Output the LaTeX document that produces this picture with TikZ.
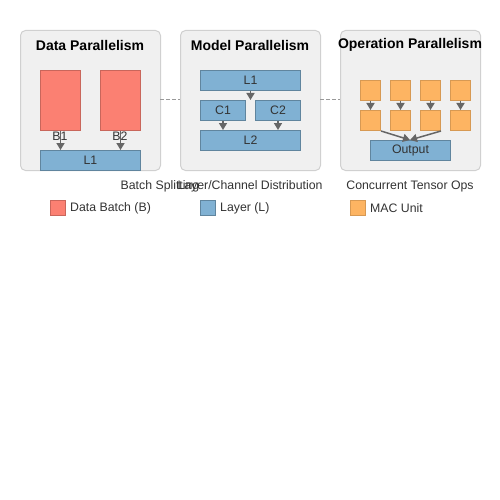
\documentclass[tikz,border=0pt]{standalone}
\usepackage{fontspec}
\setmainfont{Liberation Sans}
\usetikzlibrary{arrows.meta}
\definecolor{redB}{HTML}{FB8072}
\definecolor{blueL}{HTML}{80B1D3}
\definecolor{orangeM}{HTML}{FDB462}
\definecolor{panelfill}{HTML}{F0F0F0}
\definecolor{paneldraw}{HTML}{D0D0D0}
\definecolor{arrowgray}{HTML}{666666}
\definecolor{txt}{HTML}{333333}
\begin{document}
\begin{tikzpicture}[x=1pt,y=-1pt,
  panel/.style={draw=paneldraw, fill=panelfill, rounded corners=5pt, line width=1pt,
    minimum width=140pt, minimum height=140pt, inner sep=0pt, anchor=north west},
  ptitle/.style={font=\bfseries\fontsize{14}{16}\selectfont, text=black, inner sep=0pt},
  lbl/.style={font=\fontsize{12.3}{14}\selectfont, text=txt, inner sep=0pt},
  blk/.style={anchor=north west, inner sep=0pt, line width=1pt, font=\fontsize{12.3}{14}\selectfont, text=txt},
  batch/.style={blk, fill=redB, draw=redB!80!black},
  layer/.style={blk, fill=blueL, draw=blueL!75!black},
  mac/.style={blk, fill=orangeM, draw=orangeM!85!black, minimum width=20pt, minimum height=20pt},
  flow/.style={draw=arrowgray, line width=1.5pt, -{Triangle[length=7pt,width=8pt]}},
  link/.style={draw=black!40, line width=1pt, dash pattern=on 4pt off 2pt},
]
\useasboundingbox[fill=white] (0,0) rectangle (500,500);

% panels
\node[panel] (p1) at (20,30) {};
\node[panel] (p2) at (180,30) {};
\node[panel] (p3) at (340,30) {};
\node[ptitle] (t1) at (90,45) {Data Parallelism};
\node[ptitle] (t2) at (250,45) {Model Parallelism};
\node[ptitle] (t3) at (410,45) {Operation Parallelism};

% dashed links between panels
\coordinate (d1a) at (160,100); \coordinate (d1b) at (180,100);
\coordinate (d2a) at (320,100); \coordinate (d2b) at (340,100);
\draw[link] (d1a) -- (d1b);
\draw[link] (d2a) -- (d2b);

% data parallelism
\node[batch, minimum width=40pt, minimum height=60pt] (b1) at (40,70) {};
\node[batch, minimum width=40pt, minimum height=60pt] (b2) at (100,70) {};
\node[layer, minimum width=100pt, minimum height=20pt] (dl1) at (40,150) {L1};
\draw[flow] (b1.south) -- (b1.south |- dl1.north);
\draw[flow] (b2.south) -- (b2.south |- dl1.north);
\node[lbl] (b1t) at (60,136) {B1};
\node[lbl] (b2t) at (120,136) {B2};

% model parallelism
\node[layer, minimum width=100pt, minimum height=20pt] (ml1) at (200,70) {L1};
\node[layer, minimum width=45pt, minimum height=20pt] (c1) at (200,100) {C1};
\node[layer, minimum width=45pt, minimum height=20pt] (c2) at (255,100) {C2};
\node[layer, minimum width=100pt, minimum height=20pt] (ml2) at (200,130) {L2};
\draw[flow] (ml1.south) -- (ml1.south |- c1.north);
\draw[flow] (c1.south) -- (c1.south |- ml2.north);
\draw[flow] (c2.south) -- (c2.south |- ml2.north);

% operation parallelism
\foreach \i/\x in {1/360,2/390,3/420,4/450}{
  \node[mac] (ma\i) at (\x,80) {};
  \node[mac] (mb\i) at (\x,110) {};
  \draw[flow] (ma\i.south) -- (mb\i.north);
}
\node[layer, minimum width=80pt, minimum height=20pt] (out) at (370,140) {Output};
\coordinate (outin) at (410,140);
\draw[flow] (mb1.south east) -- (outin);
\draw[flow] (mb3.south east) -- (outin);

% captions
\node[lbl] (cap1) at (160,186.5) {Batch Splitting};
\node[lbl] (cap2) at (250,186.5) {Layer/Channel Distribution};
\node[lbl] (cap3) at (410,186.5) {Concurrent Tensor Ops};

% legend
\node[batch, minimum width=15pt, minimum height=15pt] (lg1) at (50,200) {};
\node[lbl, anchor=west] (lg1t) at (70,208) {Data Batch (B)};
\node[layer, minimum width=15pt, minimum height=15pt] (lg2) at (200,200) {};
\node[lbl, anchor=west] (lg2t) at (220,208) {Layer (L)};
\node[mac, minimum width=15pt, minimum height=15pt] (lg3) at (350,200) {};
\node[lbl, anchor=west] (lg3t) at (370,208) {MAC Unit};
\end{tikzpicture}
\end{document}
